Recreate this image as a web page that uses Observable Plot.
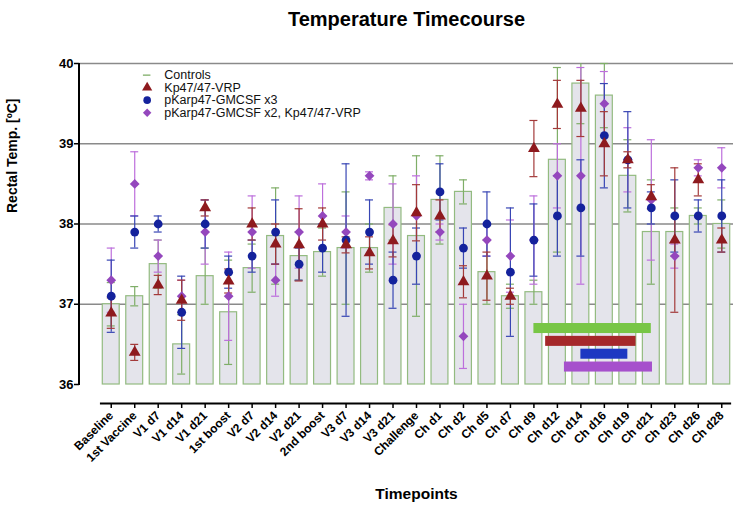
<!DOCTYPE html>
<html><head><meta charset="utf-8">
<script src="https://cdn.jsdelivr.net/npm/d3@7"></script>
<script src="https://cdn.jsdelivr.net/npm/@observablehq/plot@0.6"></script>
<style>
body{margin:0;background:#fff;}
#chart svg{font-family:"Liberation Sans",Arial,sans-serif;background:#fff;}
</style>
</head><body><div id="chart"></div>
<script>
const timepoints = ["Baseline","1st Vaccine","V1 d7","V1 d14","V1 d21","1st boost","V2 d7","V2 d14","V2 d21","2nd boost","V3 d7","V3 d14","V3 d21","Challenge","Ch d1","Ch d2","Ch d5","Ch d7","Ch d9","Ch d12","Ch d14","Ch d16","Ch d19","Ch d21","Ch d23","Ch d26","Ch d28"];

const seriesNames = ["Controls","Kp47/47-VRP","pKarp47-GMCSF x3","pKarp47-GMCSF x2, Kp47/47-VRP"];

const controlMean = [37.0,37.1,37.5,36.5,37.35,36.9,37.45,37.85,37.6,37.65,37.7,37.7,38.2,37.85,38.3,38.4,37.4,37.1,37.15,38.8,39.75,39.6,38.6,37.9,37.9,38.1,38.0];
const controlErr  = [0.27,0.12,0.3,0.37,0.35,0.65,0.3,0.6,0.3,0.3,0.7,0.3,0.4,1.0,0.55,0.15,0.4,0.15,0.15,1.15,0.5,0.4,0.45,0.65,0.3,0.1,0.3];

const vrpMean = [36.89,36.4,37.24,37.05,38.2,37.29,38.0,37.75,37.74,38.0,37.74,37.64,37.79,38.14,38.1,37.28,37.35,37.1,38.94,39.49,39.44,39.0,38.8,38.34,37.8,38.55,37.8];
const vrpErr  = [0.19,0.1,0.12,0.25,0.1,0.15,0.2,0.25,0.45,0.2,0.1,0.2,0.2,0.35,0.2,0.2,0.3,0.1,0.35,0.3,0.35,0.4,0.1,0.15,0.9,0.2,0.15];

const gm3Mean = [37.1,37.9,38.0,36.9,38.0,37.4,37.6,37.9,37.5,37.7,37.8,37.9,37.3,37.6,38.4,37.7,38.0,37.4,37.8,38.1,38.2,39.1,38.8,38.2,38.1,38.1,38.1];
const gm3Err  = [0.45,0.2,0.1,0.45,0.3,0.2,0.2,0.4,0.2,0.3,0.95,0.4,0.35,0.35,0.35,0.25,0.4,0.8,0.45,0.5,0.6,0.65,0.6,0.2,0.45,0.2,0.45];

const gm2vrpMean = [37.3,38.5,37.6,37.1,37.9,37.1,37.9,37.3,37.9,38.1,37.9,38.6,38.0,38.1,37.9,36.6,37.8,37.6,37.8,38.6,38.6,39.5,38.8,38.3,37.6,38.7,38.7];
const gm2vrpErr  = [0.4,0.4,0.2,0.2,0.4,0.55,0.45,0.2,0.45,0.4,0.2,0.05,0.5,0.5,0.1,0.4,0.2,0.45,0.55,0.4,1.35,0.4,0.4,0.75,0.15,0.1,0.25];

// fever periods (category positions) for each group
const feverGroup = ["Controls","Kp47/47-VRP","pKarp47-GMCSF x3","pKarp47-GMCSF x2, Kp47/47-VRP"];
const feverStart = [18, 18.5, 20, 19.3];
const feverEnd   = [23, 22.35, 22, 23.05];

const yTicks = [36,37,38,39,40];

const pointColor = {"Kp47/47-VRP":"#8e1a1e","pKarp47-GMCSF x3":"#14229c","pKarp47-GMCSF x2, Kp47/47-VRP":"#9447bd"};
const errColor = {"Controls":"#7fae68","Kp47/47-VRP":"#a33a3a","pKarp47-GMCSF x3":"#3846b4","pKarp47-GMCSF x2, Kp47/47-VRP":"#bd6fdc"};
const feverColor = {"Controls":"#78c646","Kp47/47-VRP":"#a5282a","pKarp47-GMCSF x3":"#1d38c2","pKarp47-GMCSF x2, Kp47/47-VRP":"#a650cc"};
const symbolOf = {"Kp47/47-VRP":"triangle","pKarp47-GMCSF x3":"circle","pKarp47-GMCSF x2, Kp47/47-VRP":"diamond2"};

const idx = timepoints.map((_, i) => i);
const controls = idx.map(i => ({i, mean: controlMean[i], err: controlErr[i]}));
const groups = [
  {name: seriesNames[3], mean: gm2vrpMean, err: gm2vrpErr},
  {name: seriesNames[2], mean: gm3Mean, err: gm3Err},
  {name: seriesNames[1], mean: vrpMean, err: vrpErr}
].map(g => ({name: g.name, rows: idx.map(i => ({i, mean: g.mean[i], err: g.err[i]}))}));

const barHalf = 0.36, capHalf = 0.17;
const caps = rows => rows.flatMap(d => [{i: d.i, v: d.mean - d.err}, {i: d.i, v: d.mean + d.err}]);
const fever = feverGroup.map((g, k) => ({g, k, start: feverStart[k], end: feverEnd[k]}));

// legend layout (data coordinates)
const legend = seriesNames.map((s, k) => ({s, k, y: 39.855 - k * 0.156}));
const legX = 1.53, legTextX = 2.26;

function yAxisLine(index, scales, values, dims) {
  const y = scales.y;
  return d3.create("svg:line")
    .attr("x1", dims.marginLeft).attr("x2", dims.marginLeft)
    .attr("y1", y(yTicks[0]) + 1).attr("y2", y(yTicks[yTicks.length-1]))
    .attr("stroke", "#000").attr("stroke-width", 2).node();
}

const marks = [
  Plot.ruleY([37,38,39,40], {stroke: "#8a8a8a", strokeWidth: 1.3}),
  Plot.rect(controls, {x1: d => d.i - barHalf, x2: d => d.i + barHalf, y1: 36, y2: "mean", fill: "#e4e4eb", stroke: "#93bb80", strokeWidth: 1.2}),
  Plot.rect(fever, {x1: "start", x2: "end", y1: d => 36.76 - d.k * 0.16, y2: d => 36.635 - d.k * 0.16, fill: d => feverColor[d.g]}),
  Plot.ruleX(controls, {x: "i", y1: d => d.mean - d.err, y2: d => d.mean + d.err, stroke: errColor.Controls, strokeWidth: 1.2, clip: true}),
  Plot.ruleY(caps(controls).filter(c => c.v <= 40), {x1: d => d.i - capHalf, x2: d => d.i + capHalf, y: "v", stroke: errColor.Controls, strokeWidth: 1.2})
];
for (const g of groups) {
  marks.push(
    Plot.ruleX(g.rows, {x: "i", y1: d => d.mean - d.err, y2: d => d.mean + d.err, stroke: errColor[g.name], strokeWidth: 1.2, clip: true}),
    Plot.ruleY(caps(g.rows).filter(c => c.v <= 40 && c.v >= 36), {x1: d => d.i - capHalf, x2: d => d.i + capHalf, y: "v", stroke: errColor[g.name], strokeWidth: 1.2})
  );
}
for (const g of groups) {
  marks.push(Plot.dot(g.rows, {x: "i", y: "mean", symbol: () => symbolOf[g.name], fill: pointColor[g.name], stroke: "none", r: 4.4}));
}
marks.push(
  // legend
  Plot.ruleY(legend.filter(d => d.k === 0), {y: "y", x1: legX - 0.16, x2: legX + 0.16, stroke: errColor.Controls, strokeWidth: 1.3}),
  Plot.dot(legend.filter(d => d.k > 0), {x: () => legX, y: "y", symbol: d => symbolOf[d.s], fill: d => pointColor[d.s], r: 3.8}),
  Plot.text(legend, {x: () => legTextX, y: "y", text: "s", textAnchor: "start", fontSize: 12.5, fill: "#111"}),
  // axes
  Plot.axisY({ticks: yTicks, tickFormat: d => String(d), tickSize: 5, tickPadding: 1, fontSize: 13, fontWeight: "bold", strokeWidth: 1.5, label: null}),
  yAxisLine,
  Plot.ruleY([36], {x1: -0.46, x2: 26.42, dy: 19, stroke: "#000", strokeWidth: 2}),
  Plot.axisX({ticks: idx, tickFormat: i => timepoints[i], tickRotate: -45, tickSize: 5, tickPadding: 5, dy: 19, fontSize: 12, fontWeight: "bold", strokeWidth: 1.5, label: null}),
  // titles
  Plot.text(["Temperature Timecourse"], {frameAnchor: "top", dy: -52, fontSize: 20, fontWeight: "bold"}),
  Plot.text(["Rectal Temp. [ºC]"], {frameAnchor: "left", rotate: -90, dx: -67, dy: -11, fontSize: 14, fontWeight: "bold"}),
  Plot.text(["Timepoints"], {frameAnchor: "bottom", dx: 10, dy: 114, fontSize: 15.5, fontWeight: "bold"})
);

const chart = Plot.plot({
  width: 736, height: 509,
  marginTop: 63, marginBottom: 125, marginLeft: 79, marginRight: 3,
  x: {type: "linear", domain: [-0.5, 26.5], range: [99, 733]},
  y: {domain: [36, 40]},
  style: {fontFamily: "'Liberation Sans', Arial, sans-serif", color: "#000", background: "#fff"},
  marks
});
document.getElementById("chart").append(chart);
</script>
</body></html>
